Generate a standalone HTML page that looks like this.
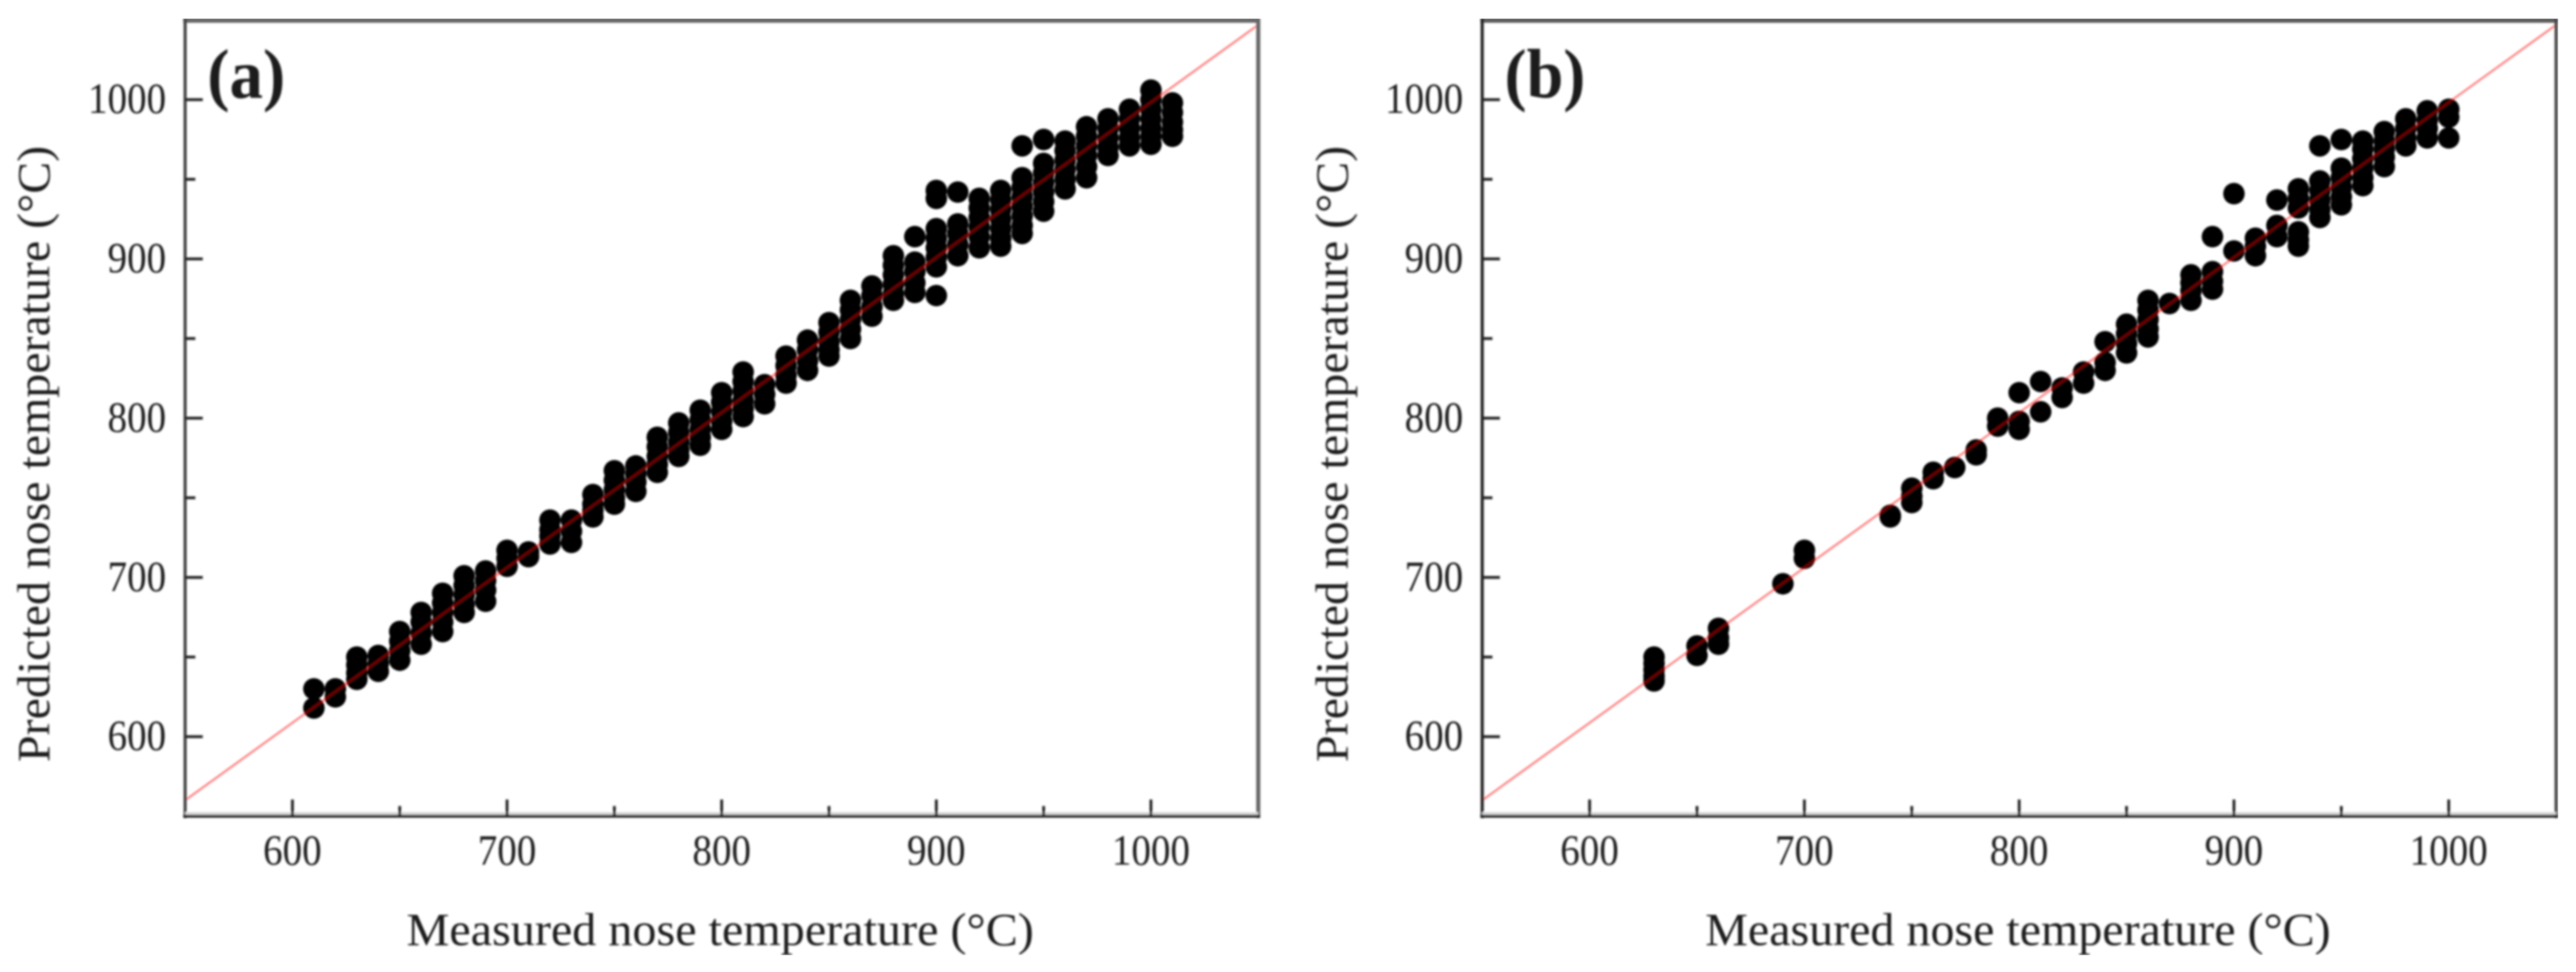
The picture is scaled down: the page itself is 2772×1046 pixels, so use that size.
<!DOCTYPE html>
<html lang="en">
<head>
<meta charset="utf-8">
<title>Measured vs predicted nose temperature</title>
<style>
html,body{margin:0;padding:0;background:#fff;}
body{width:2772px;height:1046px;overflow:hidden;}
svg{display:block;}
text{font-family:"Liberation Serif",serif;fill:#1e1e1e;}
</style>
</head>
<body>
<svg id="chart" xmlns="http://www.w3.org/2000/svg" width="2772" height="1046" viewBox="0 0 2772 1046">
  <defs>
    <filter id="soft" x="0" y="0" width="100%" height="100%" filterUnits="objectBoundingBox">
      <feGaussianBlur stdDeviation="1"/>
    </filter>
  </defs>
  <rect x="0" y="0" width="2772" height="1046" fill="#ffffff"/>
  <g id="root" filter="url(#soft)">
    <g id="panel-a"></g>
    <g id="panel-b"></g>
    <text x="223" y="105" font-size="75" font-weight="bold" textLength="84" lengthAdjust="spacingAndGlyphs">(a)</text>
    <text x="1619" y="105" font-size="75" font-weight="bold" textLength="87" lengthAdjust="spacingAndGlyphs">(b)</text>
    <text x="437.5" y="1017" font-size="50" textLength="675" lengthAdjust="spacingAndGlyphs">Measured nose temperature (°C)</text>
    <text x="1835" y="1017" font-size="50" textLength="673" lengthAdjust="spacingAndGlyphs">Measured nose temperature (°C)</text>
    <text transform="translate(53,820) rotate(-90)" x="0" y="0" font-size="50" textLength="663" lengthAdjust="spacingAndGlyphs">Predicted nose temperature (°C)</text>
    <text transform="translate(1450,820) rotate(-90)" x="0" y="0" font-size="50" textLength="663" lengthAdjust="spacingAndGlyphs">Predicted nose temperature (°C)</text>
  </g>
</svg>
<script>
// Axis data
const domainMin = 550;
const domainMax = 1050;
const majorTicks = [600, 700, 800, 900, 1000];
const minorTicks = [650, 750, 850, 950];
const tickLabels = ["600", "700", "800", "900", "1000"];
const fitLineX = [550, 1050];
const fitLineY = [560, 1047];

// Panel (a) values
const measuredA = [610,620,630,640,650,660,670,680,690,700,710,720,730,740,750,760,770,780,790,800,810,820,830,840,850,860,870,880,890,900,910,920,930,940,950,960,970,980,990,1000,1010];
const predictedA = [
  [630,618],
  [630,625],
  [650,645,640,636],
  [651,646,641],
  [666,660,654,648],
  [678,672,665,658],
  [690,684,678,672,666],
  [701,695,689,683,678],
  [704,698,692,685],
  [717,712,707],
  [716,713],
  [736,730,726,721],
  [736,729,722],
  [752,746,742,738],
  [767,761,755,750,746],
  [770,765,760,754],
  [788,782,776,771,766],
  [797,791,785,780,776],
  [805,799,793,788,783],
  [816,810,804,798,793],
  [829,823,817,811,806,801],
  [821,815,809],
  [839,833,827,822],
  [849,843,836,830],
  [860,854,848,843,839],
  [874,868,862,856,850],
  [883,877,870,864],
  [902,896,890,884,878,874],
  [914,898,892,885,879],
  [943,938,919,913,907,901,895,877],
  [942,922,916,909,902],
  [938,932,926,920,914,907],
  [943,937,931,925,919,913,908],
  [971,951,945,939,933,927,921,916],
  [975,960,954,948,942,936,930],
  [974,968,962,956,950,944],
  [983,977,971,965,958,951],
  [988,982,976,970,965],
  [994,988,982,976,971],
  [1006,1000,994,988,982,977,972],
  [998,992,986,981,977]
];

// Panel (b) values
const measuredB = [630,650,660,690,700,740,750,760,770,780,790,800,810,820,830,840,850,860,870,880,890,900,910,920,930,940,950,960,970,980,990,1000];
const predictedB = [
  [650,646,642,638,635],
  [657,651],
  [668,662,658],
  [696],
  [717,712],
  [739,738],
  [756,751,747],
  [766,762],
  [769],
  [780,777],
  [800,795],
  [816,798,793],
  [823,804],
  [819,813],
  [829,822],
  [848,835,830],
  [859,853,847,841],
  [874,868,862,856,851],
  [872],
  [890,885,880,874],
  [914,892,886,881],
  [941,905],
  [913,908,902],
  [937,921,914],
  [944,938,932,917,912,908],
  [971,949,943,937,931,926],
  [975,957,951,945,939,934],
  [974,969,963,957,951,946],
  [980,974,969,964,958],
  [988,982,976,971],
  [993,987,982,976],
  [994,989,976]
];

const NS = 'http://www.w3.org/2000/svg';

function make(parent, tag, attrs) {
  const el = document.createElementNS(NS, tag);
  for (const k in attrs) el.setAttribute(k, attrs[k]);
  parent.appendChild(el);
  return el;
}

function drawPanel(host, prefix, frame, measured, predicted) {
  const sx = function (v) { return frame.left + (v - domainMin) * (frame.right - frame.left) / (domainMax - domainMin); };
  const sy = function (v) { return frame.bottom - (v - domainMin) * (frame.bottom - frame.top) / (domainMax - domainMin); };

  // points
  const pts = make(host, 'g', {});
  
  
  measured.forEach(function (mx, i) {
    predicted[i].forEach(function (py) {
      const c = make(pts, 'circle', { cx: sx(mx), cy: sy(py), r: 11.6, fill: '#000' });
      
      
    });
  });

  // fit line
  const line = make(host, 'line', {
    x1: sx(fitLineX[0]), y1: sy(fitLineY[0]), x2: sx(fitLineX[1]), y2: sy(fitLineY[1]),
    stroke: '#ff0000', 'stroke-opacity': 0.46, 'stroke-width': 2.4
  });
  
  

  // frame
  const top = make(host, 'line', { x1: frame.left - 2, x2: frame.right + 2, y1: 22, y2: 22, stroke: frame.topColor, 'stroke-width': 5 });
  
  
  const right = make(host, 'line', { x1: frame.right, x2: frame.right, y1: 20, y2: frame.bottom + 2, stroke: frame.rightColor, 'stroke-width': frame.rightWidth });
  
  
  const left = make(host, 'line', { x1: frame.left, x2: frame.left, y1: 20, y2: frame.bottom + 2, stroke: frame.leftColor, 'stroke-width': 3.4 });
  
  
  const halo = make(host, 'line', { x1: frame.left, x2: frame.right, y1: frame.bottom - 3, y2: frame.bottom - 3, stroke: '#d8d8d8', 'stroke-width': 3 });
  
  
  const bottom = make(host, 'line', { x1: frame.left - 2, x2: frame.right + 2, y1: frame.bottom, y2: frame.bottom, stroke: '#1c1c1c', 'stroke-width': 3 });
  
  

  // major ticks and labels
  majorTicks.forEach(function (t, i) {
    const xt = make(host, 'line', { x1: sx(t), x2: sx(t), y1: frame.bottom, y2: frame.bottom - 18, stroke: '#222', 'stroke-width': 3 });
    
    
    const yt = make(host, 'line', { x1: frame.left, x2: frame.left + 19, y1: sy(t), y2: sy(t), stroke: '#222', 'stroke-width': 3 });
    
    

    const w = tickLabels[i].length * 21;
    const xl = make(host, 'text', { x: sx(t) - w / 2, y: 930.7, 'font-size': 47, textLength: w, lengthAdjust: 'spacingAndGlyphs' });
    xl.textContent = tickLabels[i];
    
    
    const yl = make(host, 'text', { x: frame.left - 20.5 - w, y: sy(t) + 14.4, 'font-size': 47, textLength: w, lengthAdjust: 'spacingAndGlyphs' });
    yl.textContent = tickLabels[i];
    
    
  });

  // minor ticks
  minorTicks.forEach(function (t) {
    const xm = make(host, 'line', { x1: sx(t), x2: sx(t), y1: frame.bottom, y2: frame.bottom - 11, stroke: '#222', 'stroke-width': 3 });
    
    
    const ym = make(host, 'line', { x1: frame.left, x2: frame.left + 11, y1: sy(t), y2: sy(t), stroke: '#222', 'stroke-width': 3 });
    
    
  });
}

drawPanel(document.getElementById('panel-a'), 'panel-a',
  { left: 199.2, right: 1354, top: 21.6, bottom: 878.4, topColor: '#666', rightColor: '#666', leftColor: '#444', rightWidth: 4.4 },
  measuredA, predictedA);
drawPanel(document.getElementById('panel-b'), 'panel-b',
  { left: 1595, right: 2750.6, top: 21.6, bottom: 878.4, topColor: '#5c5c5c', rightColor: '#444', leftColor: '#222', rightWidth: 3.4 },
  measuredB, predictedB);
</script>
</body>
</html>
